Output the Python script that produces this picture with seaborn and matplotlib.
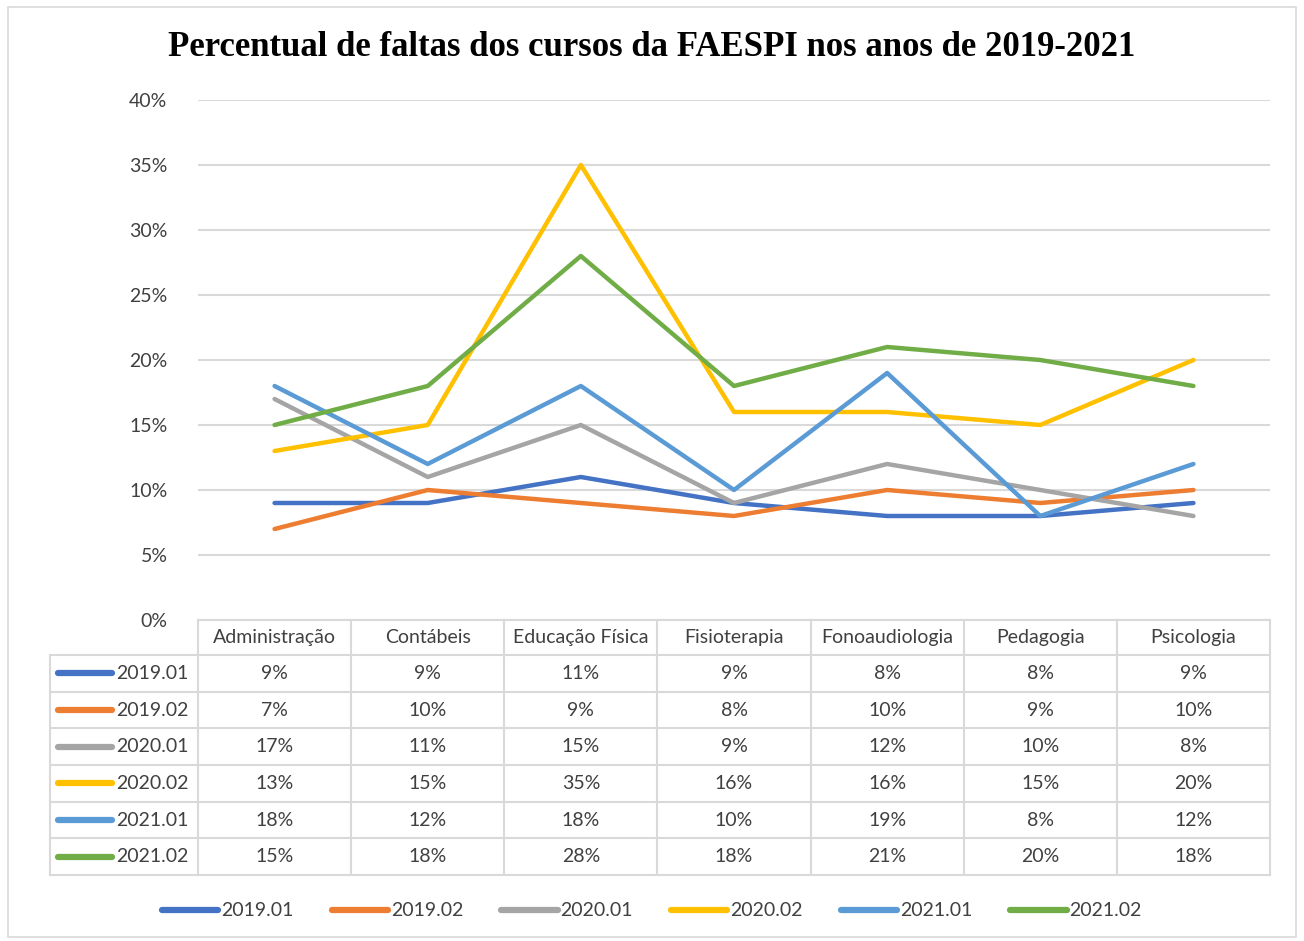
import numpy as np
import pandas as pd
import matplotlib
matplotlib.use("Agg")
import matplotlib.pyplot as plt
import seaborn as sns
from matplotlib.lines import Line2D
from matplotlib.patches import Rectangle

cursos = ['Administração', 'Contábeis', 'Educação Física', 'Fisioterapia',
          'Fonoaudiologia', 'Pedagogia', 'Psicologia']
semestres = ['2019.01', '2019.02', '2020.01', '2020.02', '2021.01', '2021.02']
v_2019_01 = [9, 9, 11, 9, 8, 8, 9]
v_2019_02 = [7, 10, 9, 8, 10, 9, 10]
v_2020_01 = [17, 11, 15, 9, 12, 10, 8]
v_2020_02 = [13, 15, 35, 16, 16, 15, 20]
v_2021_01 = [18, 12, 18, 10, 19, 8, 12]
v_2021_02 = [15, 18, 28, 18, 21, 20, 18]
cores = ['#4472C4', '#ED7D31', '#A5A5A5', '#FFC000', '#5B9BD5', '#70AD47']

valores = [v_2019_01, v_2019_02, v_2020_01, v_2020_02, v_2021_01, v_2021_02]
df = pd.DataFrame({
    'curso': cursos * len(semestres),
    'semestre': np.repeat(semestres, len(cursos)),
    'pct': np.concatenate(valores),
})

sns.set_style("white")
plt.rcParams['font.family'] = ['Lato', 'DejaVu Sans']
texto = '#404040'
grade = '#D9D9D9'

W, H = 1304, 941
fig = plt.figure(figsize=(W / 100, H / 100), dpi=100)
fig.patches.append(Rectangle((0.006, 0.004), 0.988, 0.989, transform=fig.transFigure,
                             fill=False, edgecolor=grade, lw=1.2))

# area do grafico
ax = fig.add_axes([198 / W, 1 - 620 / H, (1270 - 198) / W, (620 - 100) / H])
sns.lineplot(data=df, x='curso', y='pct', hue='semestre', palette=cores,
             linewidth=3.2, sort=False, legend=False, ax=ax)
ax.set_xlim(-0.5, 6.5)
ax.set_ylim(0, 40)
ax.set_yticks(range(0, 41, 5))
ax.set_yticklabels([f'{t}%' for t in range(0, 41, 5)], fontsize=14, color=texto)
ax.tick_params(axis='y', length=0, pad=22)
ax.set_xticks([])
ax.set_xlabel('')
ax.set_ylabel('')
for s in ax.spines.values():
    s.set_visible(False)
ax.grid(axis='y', color=grade, lw=1.5)
ax.set_axisbelow(True)

fig.text(0.5, 1 - 48 / H, 'Percentual de faltas dos cursos da FAESPI nos anos de 2019-2021',
         ha='center', va='center', fontsize=25, fontweight='bold',
         family='Liberation Serif', color='black')

# tabela de dados
tab = fig.add_axes([50 / W, 1 - 875 / H, (1270 - 50) / W, 255 / H])
cw = 1072 / 7
x0 = -0.5 - 148 / cw
tab.set_xlim(x0, 6.5)
tab.set_ylim(255, 0)
tab.axis('off')
linhas = [0, 35] + [35 + (255 - 35) / 6 * i for i in range(1, 7)]
lw_t = 1.5
# bordas horizontais
tab.plot([-0.5, 6.5], [0, 0], color=grade, lw=lw_t, clip_on=False)
for y in linhas[1:]:
    tab.plot([x0, 6.5], [y, y], color=grade, lw=lw_t, clip_on=False)
# bordas verticais
for i in range(8):
    tab.plot([i - 0.5, i - 0.5], [0, 255], color=grade, lw=lw_t, clip_on=False)
tab.plot([x0, x0], [35, 255], color=grade, lw=lw_t, clip_on=False)

for i, c in enumerate(cursos):
    tab.text(i, 17.5, c, ha='center', va='center', fontsize=14, color=texto)
for r, (sem, vals, cor) in enumerate(zip(semestres, valores, cores)):
    yc = (linhas[r + 1] + linhas[r + 2]) / 2
    tab.plot([x0 + 8 / cw, x0 + 62 / cw], [yc, yc], color=cor, lw=4.5,
             solid_capstyle='round', clip_on=False)
    tab.text(x0 + 66 / cw, yc, sem, ha='left', va='center', fontsize=14, color=texto)
    for i, v in enumerate(vals):
        tab.text(i, yc, f'{v}%', ha='center', va='center', fontsize=14, color=texto)

# legenda
handles = [Line2D([0], [0], color=c, lw=4.5, solid_capstyle='round') for c in cores]
fig.legend(handles, semestres, loc='center', bbox_to_anchor=(0.5, 1 - 911 / H), ncol=6,
           frameon=False, fontsize=14, handlelength=2.9, handletextpad=0.15,
           columnspacing=1.95, labelcolor=texto)

fig.savefig('out.png', dpi=100)
